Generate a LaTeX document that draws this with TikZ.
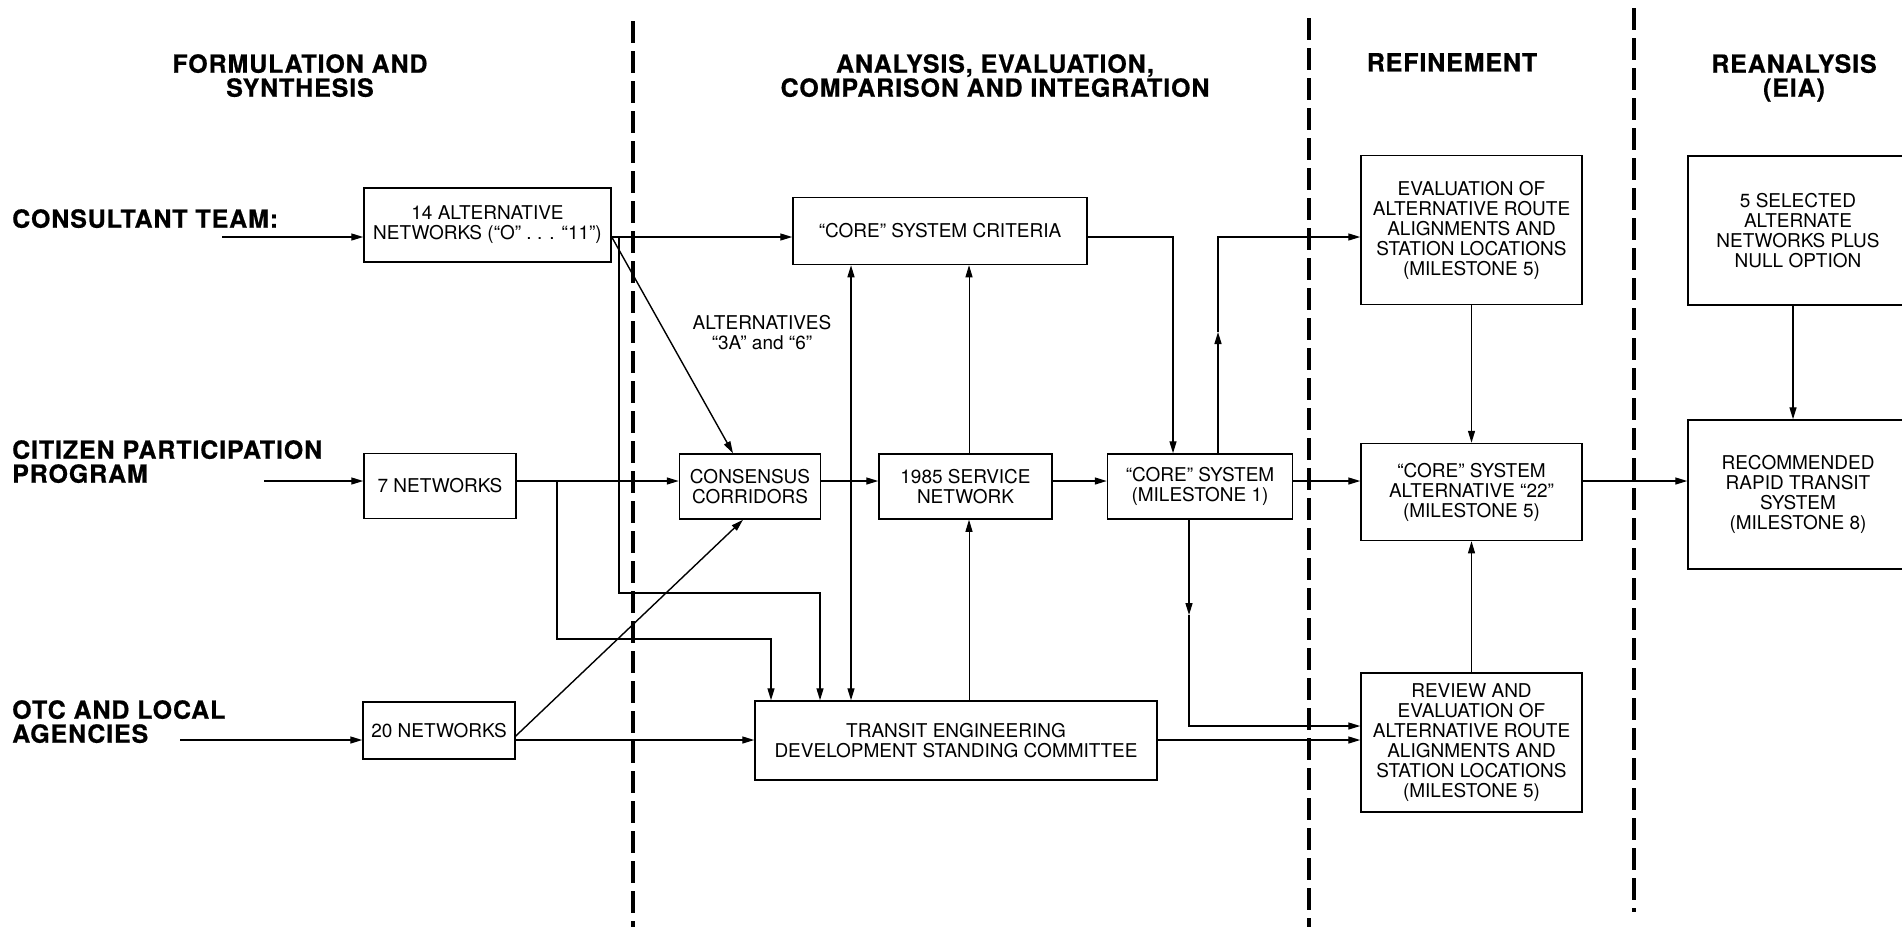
\documentclass[tikz,border=0pt]{standalone}
\usepackage{fontspec}
\setmainfont{TeX Gyre Heros}
\newfontfamily\headfont[LetterSpace=3.5,FakeBold=0.6]{TeX Gyre Heros Bold}
\usetikzlibrary{arrows.meta}
\begin{document}
\begin{tikzpicture}[x=1pt,y=-1pt,
  box/.style={draw, line width=1.5pt, inner sep=0pt, align=center,
    font=\fontsize{19}{20}\selectfont},
  head/.style={font=\fontsize{25}{24}\selectfont\headfont, align=center,
    inner sep=0pt, anchor=north},
  rowlabel/.style={font=\fontsize{25}{24}\selectfont\headfont, align=left,
    inner sep=0pt, anchor=north west},
  conn/.style={line width=1.4pt},
  tip/.tip={Triangle[length=12pt,width=7pt]},
  arr/.style={conn, -tip},
  thinarr/.style={line width=0.9pt, -tip},
  phase/.style={line width=4pt, dash pattern=on 22pt off 8pt},
]
\useasboundingbox (0,0) rectangle (1902,927);

% phase separators
\draw[phase] (633,21) -- (633,927);
\draw[phase] (1309,18) -- (1309,927);
\draw[phase] (1634,8) -- (1634,912);

% phase headings
\node[head] (hForm) at (300,54) {FORMULATION AND\\SYNTHESIS};
\node[head] (hAnal) at (995,54) {ANALYSIS, EVALUATION,\\COMPARISON AND INTEGRATION};
\node[head] (hRef) at (1452,53) {REFINEMENT};
\node[head] (hReana) at (1794,54) {REANALYSIS\\(EIA)};

% participants
\node[rowlabel] (lCons) at (12,209) {CONSULTANT TEAM:};
\node[rowlabel] (lCit) at (12,440) {CITIZEN PARTICIPATION\\PROGRAM};
\node[rowlabel] (lOtc) at (12,700) {OTC AND LOCAL\\AGENCIES};

% boxes
\node[box, minimum width=247pt, minimum height=74pt] (alt14) at (487.5,225)
  {14 ALTERNATIVE\\NETWORKS (“O” . . . “11”)};
\node[box, minimum width=294pt, minimum height=67pt] (crit) at (940,231)
  {“CORE” SYSTEM CRITERIA};
\node[box, minimum width=152pt, minimum height=65pt] (net7) at (440,486)
  {7 NETWORKS};
\node[box, minimum width=141pt, minimum height=65pt] (cons) at (750,486.5)
  {CONSENSUS\\CORRIDORS};
\node[box, minimum width=173pt, minimum height=65pt] (svc) at (965.5,486.5)
  {1985 SERVICE\\NETWORK};
\node[box, minimum width=185pt, minimum height=65pt] (core1) at (1200,486.5)
  {“CORE” SYSTEM\\(MILESTONE 1)};
\node[box, minimum width=152pt, minimum height=57pt] (net20) at (439,730.5)
  {20 NETWORKS};
\node[box, minimum width=402pt, minimum height=79pt] (tedsc) at (956,740.5)
  {TRANSIT ENGINEERING\\DEVELOPMENT STANDING COMMITTEE};
\node[box, minimum width=221pt, minimum height=149pt] (eval5) at (1471.5,230)
  {EVALUATION OF\\ALTERNATIVE ROUTE\\ALIGNMENTS AND\\STATION LOCATIONS\\(MILESTONE 5)};
\node[box, minimum width=221pt, minimum height=97pt] (core22) at (1471.5,492)
  {“CORE” SYSTEM\\ALTERNATIVE “22”\\(MILESTONE 5)};
\node[box, minimum width=221pt, minimum height=139pt] (review5) at (1471.5,742.5)
  {REVIEW AND\\EVALUATION OF\\ALTERNATIVE ROUTE\\ALIGNMENTS AND\\STATION LOCATIONS\\(MILESTONE 5)};
\node[box, minimum width=220pt, minimum height=149pt] (sel5) at (1798,230.5)
  {5 SELECTED\\ALTERNATE\\NETWORKS PLUS\\NULL OPTION};
\node[box, minimum width=220pt, minimum height=149pt] (rec8) at (1798,494.5)
  {RECOMMENDED\\RAPID TRANSIT\\SYSTEM\\(MILESTONE 8)};

\node[inner sep=0pt, align=center, font=\fontsize{19}{20}\selectfont] (altlab)
  at (762,333) {ALTERNATIVES\\“3A” and “6”};

% free ends and junctions
\coordinate (srcA) at (222,237);
\coordinate (srcB) at (264,481);
\coordinate (srcC) at (180,740);
\coordinate (jA) at (619,237);
\coordinate (jB) at (557,481);
\coordinate (upmid) at (1218,332);
\coordinate (dnmid) at (1189,615);

% inputs
\draw[arr] (srcA) -- (srcA -| alt14.west);
\draw[arr] (srcB) -- (srcB -| net7.west);
\draw[arr] (srcC) -- (srcC -| net20.west);

% formulation outputs
\draw[arr] (srcA -| alt14.east) -- (srcA -| crit.west);
\draw[arr] (srcA -| alt14.east) -- ([xshift=-17pt]cons.north);
\draw[arr] (jA) |- (820,593) -- (820,0 |- tedsc.north);
\draw[arr] (srcB -| net7.east) -- (srcB -| cons.west);
\draw[arr] (jB) |- (771,639) -- (771,0 |- tedsc.north);
\draw[arr] (srcC -| net20.east) -- (srcC -| tedsc.west);
\draw[arr] (net20.east |- 0,736) -- ([xshift=-7pt]cons.south);

% analysis
\draw[conn, tip-tip] (851,0 |- crit.south) -- (851,0 |- tedsc.north);
\draw[thinarr] (svc.north -| 969,0) -- (crit.south -| 969,0);
\draw[thinarr] (tedsc.north -| 969,0) -- (svc.south -| 969,0);
\draw[arr] (srcB -| cons.east) -- (srcB -| svc.west);
\draw[arr] (srcB -| svc.east) -- (srcB -| core1.west);
\draw[arr] (srcA -| crit.east) -| (core1.north -| 1173,0);

% refinement
\draw[arr] (core1.north -| 1218,0) -- (upmid);
\draw[arr] (upmid) |- (srcA -| eval5.west);
\draw[arr] (srcB -| core1.east) -- (srcB -| core22.west);
\draw[arr] (core1.south -| 1189,0) -- (dnmid);
\draw[arr] (dnmid) |- (review5.west |- 0,726);
\draw[arr] (srcC -| tedsc.east) -- (srcC -| review5.west);
\draw[arr] (eval5.south) -- (core22.north);
\draw[thinarr] (review5.north) -- (core22.south);

% reanalysis
\draw[arr] (srcB -| core22.east) -- (srcB -| rec8.west);
\draw[arr] (sel5.south -| 1793,0) -- (rec8.north -| 1793,0);
\end{tikzpicture}
\end{document}
